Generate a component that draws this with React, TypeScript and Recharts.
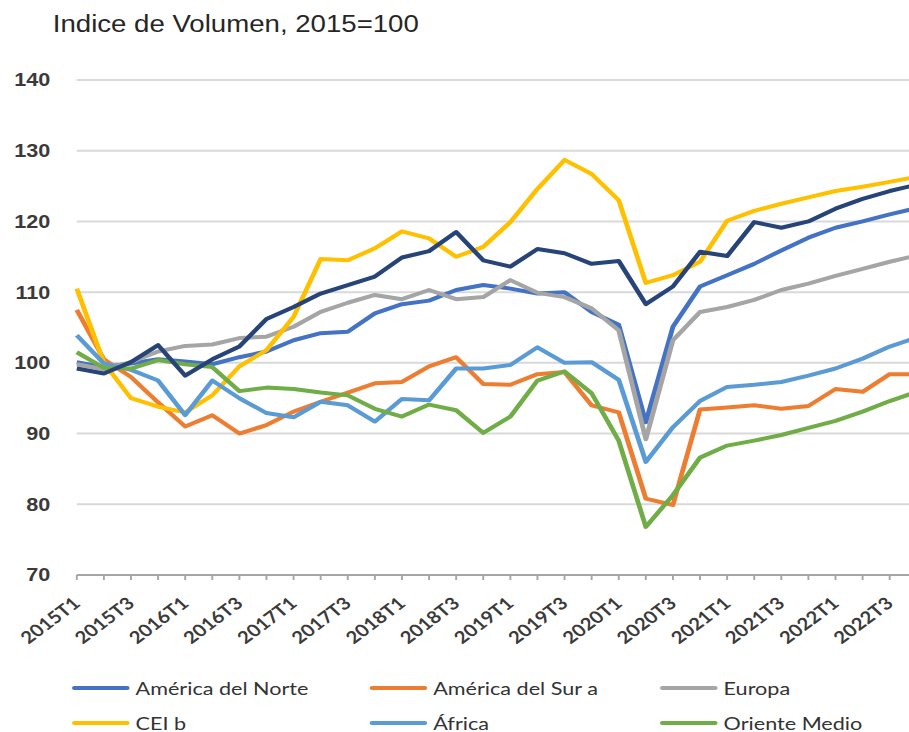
import React from 'react';
import { LineChart, Line, XAxis, YAxis, CartesianGrid, Legend } from 'recharts';

const categories = [
  '2015T1', '2015T2', '2015T3', '2015T4',
  '2016T1', '2016T2', '2016T3', '2016T4',
  '2017T1', '2017T2', '2017T3', '2017T4',
  '2018T1', '2018T2', '2018T3', '2018T4',
  '2019T1', '2019T2', '2019T3', '2019T4',
  '2020T1', '2020T2', '2020T3', '2020T4',
  '2021T1', '2021T2', '2021T3', '2021T4',
  '2022T1', '2022T2', '2022T3', '2022T4',
];

const americaNorte = [
  100.1, 99.4, 99.9, 100.5, 100.2, 99.8, 100.8, 101.6,
  103.2, 104.2, 104.4, 107.0, 108.3, 108.8, 110.3, 111.0,
  110.5, 109.8, 110.0, 107.2, 105.4, 91.6, 105.1, 110.8,
  112.4, 114.0, 115.9, 117.7, 119.1, 120.0, 121.0, 121.9,
];

const americaSur = [
  107.5, 100.5, 98.0, 94.4, 91.0, 92.6, 90.0, 91.2,
  93.1, 94.5, 95.8, 97.1, 97.3, 99.5, 100.8, 97.0,
  96.9, 98.4, 98.7, 94.0, 93.0, 80.8, 79.9, 93.4,
  93.7, 94.0, 93.5, 93.9, 96.3, 95.9, 98.4, 98.4,
];

const europa = [
  99.8, 99.1, 100.1, 101.6, 102.4, 102.6, 103.5, 103.7,
  105.1, 107.2, 108.5, 109.6, 109.0, 110.3, 109.0, 109.3,
  111.7, 109.9, 109.3, 107.7, 104.6, 89.2, 103.2, 107.2,
  107.9, 108.9, 110.3, 111.2, 112.3, 113.3, 114.3, 115.2,
];

const cei = [
  110.5, 100.0, 95.0, 93.8, 93.0, 95.4, 99.5, 101.8,
  106.5, 114.7, 114.5, 116.2, 118.6, 117.6, 115.0, 116.4,
  119.9, 124.6, 128.7, 126.7, 123.0, 111.3, 112.4, 114.3,
  120.1, 121.5, 122.5, 123.4, 124.3, 124.9, 125.6, 126.3,
];

const africa = [
  103.9, 99.9, 99.0, 97.5, 92.6, 97.5, 95.0, 92.9,
  92.3, 94.5, 94.0, 91.7, 94.9, 94.7, 99.2, 99.2,
  99.7, 102.2, 100.0, 100.1, 97.6, 86.0, 90.9, 94.6,
  96.6, 96.9, 97.3, 98.2, 99.2, 100.6, 102.3, 103.6,
];

const orienteMedio = [
  101.5, 99.3, 99.2, 100.4, 99.8, 99.4, 96.0, 96.5,
  96.3, 95.8, 95.4, 93.5, 92.4, 94.1, 93.3, 90.1,
  92.4, 97.5, 98.8, 95.7, 89.0, 76.8, 81.3, 86.6,
  88.3, 89.0, 89.8, 90.8, 91.8, 93.1, 94.6, 95.9,
];

const asia = [
  99.2, 98.5, 100.1, 102.5, 98.2, 100.5, 102.3, 106.2,
  107.9, 109.8, 111.0, 112.2, 114.9, 115.8, 118.5, 114.5,
  113.6, 116.1, 115.5, 114.0, 114.4, 108.3, 110.8, 115.7,
  115.1, 119.9, 119.1, 120.0, 121.8, 123.2, 124.3, 125.2,
];

const yTicks = [70, 80, 90, 100, 110, 120, 130, 140];

const seriesList = [
  { key: 'norte', name: 'América del Norte', color: '#4472C4', values: americaNorte, inLegend: true },
  { key: 'sur', name: 'América del Sur a', color: '#ED7D31', values: americaSur, inLegend: true },
  { key: 'europa', name: 'Europa', color: '#A5A5A5', values: europa, inLegend: true },
  { key: 'cei', name: 'CEI b', color: '#FFC000', values: cei, inLegend: true },
  { key: 'africa', name: 'África', color: '#5B9BD5', values: africa, inLegend: true },
  { key: 'oriente', name: 'Oriente Medio', color: '#70AD47', values: orienteMedio, inLegend: true },
  { key: 'asia', name: 'Asia', color: '#264478', values: asia, inLegend: false },
];

const legendOrder = seriesList.filter((s) => s.inLegend).map((s) => s.name);

const rows = categories.map((cat, i) => {
  const row: Record<string, string | number> = { cat };
  seriesList.forEach((s) => {
    row[s.key] = s.values[i];
  });
  return row;
});

const STRETCH = 1.2;

const XTick = (props: any) => {
  const { x, y, payload, index } = props;
  const axisY = y - 7;
  return (
    <g>
      <line x1={x} x2={x} y1={axisY} y2={axisY + 5} stroke="#a6a6a6" strokeWidth={1.6} />
      {index % 2 === 0 ? (
        <text
          transform={`translate(${x + 4},${axisY + 30}) rotate(-42)`}
          textAnchor="end"
          fontFamily="Lato, 'Open Sans', sans-serif"
          fontWeight={700}
          fontSize={17}
          fill="#3a3a3a"
        >
          {payload.value}
        </text>
      ) : null}
    </g>
  );
};

const LegendContent = (props: any) => {
  const payload = (props.payload || []).filter((e: any) => legendOrder.includes(e.value));
  payload.sort((a: any, b: any) => legendOrder.indexOf(a.value) - legendOrder.indexOf(b.value));
  return (
    <div
      style={{
        height: 105,
        boxSizing: 'border-box',
        paddingLeft: 60,
        display: 'grid',
        gridTemplateColumns: '248px 242px 200px',
        gridAutoRows: '35px',
        alignItems: 'center',
      }}
    >
      {payload.map((entry: any) => (
        <div key={entry.value} style={{ display: 'flex', alignItems: 'center', whiteSpace: 'nowrap' }}>
          <span
            style={{
              display: 'inline-block',
              width: 48,
              height: 4,
              borderRadius: 2,
              background: entry.color,
              marginRight: 5,
            }}
          />
          <span
            style={{
              fontFamily: "Lato, 'Open Sans', sans-serif",
              fontSize: 18,
              color: '#333333',
              lineHeight: '20px',
            }}
          >
            {entry.value}
          </span>
        </div>
      ))}
    </div>
  );
};

export default function App() {
  return (
    <div
      style={{
        position: 'absolute',
        left: 0,
        top: 0,
        width: 909,
        height: 732,
        overflow: 'hidden',
        background: '#ffffff',
      }}
    >
      <div
        style={{
          position: 'relative',
          width: 770,
          height: 775,
          transform: `scaleX(${STRETCH})`,
          transformOrigin: '0 0',
        }}
      >
        <div
          style={{
            position: 'absolute',
            left: 44,
            top: 13,
            fontFamily: "'Liberation Sans', Arial, sans-serif",
            fontSize: 23,
            lineHeight: '23px',
            color: '#262626',
            whiteSpace: 'nowrap',
            zIndex: 2,
          }}
        >
          Indice de Volumen, 2015=100
        </div>
        <LineChart
          width={770}
          height={775}
          data={rows}
          margin={{ top: 80, right: 6, left: 0, bottom: 0 }}
        >
          <CartesianGrid vertical={false} stroke="#d9d9d9" strokeWidth={2} />
          <XAxis
            dataKey="cat"
            interval={0}
            height={95}
            tickLine={false}
            tickSize={5}
            tickMargin={2}
            axisLine={{ stroke: '#a6a6a6', strokeWidth: 2 }}
            tick={(p: any) => <XTick {...p} />}
          />
          <YAxis
            width={64}
            domain={[70, 140]}
            ticks={yTicks}
            axisLine={false}
            tickLine={false}
            tickSize={20}
            tickMargin={2}
            tick={{
              fontFamily: "'Liberation Sans', Arial, sans-serif",
              fontWeight: 700,
              fontSize: 18,
              fill: '#3a3a3a',
            }}
          />
          <Legend verticalAlign="bottom" content={(p: any) => <LegendContent {...p} />} />
          {seriesList.map((s) => (
            <Line
              key={s.key}
              type="linear"
              dataKey={s.key}
              name={s.name}
              stroke={s.color}
              strokeWidth={4}
              strokeLinejoin="round"
              dot={false}
              activeDot={false}
              isAnimationActive={false}
            />
          ))}
        </LineChart>
      </div>
    </div>
  );
}
